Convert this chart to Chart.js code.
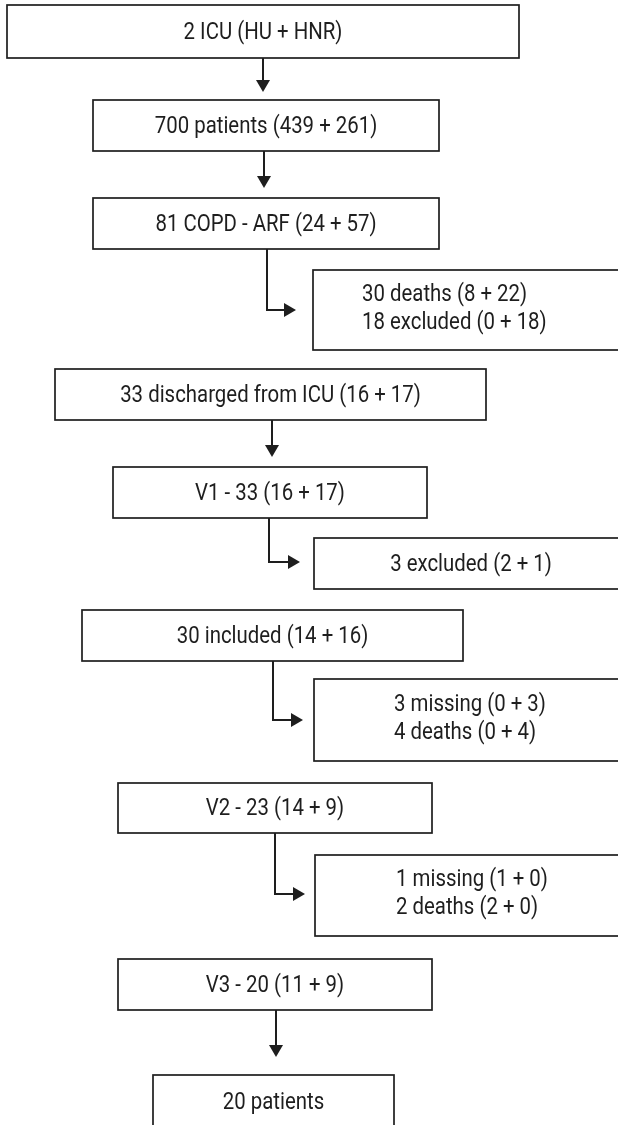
<!DOCTYPE html>
<html>
<head>
<meta charset="utf-8">
<script src="https://cdn.jsdelivr.net/npm/chart.js@4/dist/chart.umd.min.js"></script>
<style>
  html, body { margin: 0; padding: 0; background: #fff; }
  #wrap { width: 618px; height: 1125px; position: relative; }
</style>
</head>
<body>
<div id="wrap"><canvas id="flujo"></canvas></div>
<script>
// Textos de cada caja (datos del diagrama)
const boxLabels = [
    ['2 ICU (HU + HNR)'],
    ['700 patients (439 + 261)'],
    ['81 COPD - ARF (24 + 57)'],
    ['30 deaths (8 + 22)', '18 excluded (0 + 18)'],
    ['33 discharged from ICU (16 + 17)'],
    ['V1 - 33 (16 + 17)'],
    ['3 excluded (2 + 1)'],
    ['30 included (14 + 16)'],
    ['3 missing (0 + 3)', '4 deaths (0 + 4)'],
    ['V2 - 23 (14 + 9)'],
    ['1 missing (1 + 0)', '2 deaths (2 + 0)'],
    ['V3 - 20 (11 + 9)'],
    ['20 patients']
];

// Conexiones: [desde, hasta, tipo]
const links = [
    [0, 1, 'down'],
    [1, 2, 'down'],
    [2, 3, 'elbow'],
    [4, 5, 'down'],
    [5, 6, 'elbow'],
    [7, 8, 'elbow'],
    [9, 10, 'elbow'],
    [11, 12, 'down']
];

// Geometría de las cajas en unidades de la escala: [izq, der, arriba, abajo]
const boxGeom = [
    [7, 519, 5, 58],
    [93, 439, 100, 151],
    [93, 439, 198, 249],
    [313, 628, 270, 350],
    [55, 486, 369, 420],
    [113, 427, 467, 518],
    [314, 628, 538, 589],
    [82, 463, 610, 661],
    [314, 628, 679, 761],
    [118, 432, 783, 833],
    [315, 628, 855, 936],
    [118, 432, 959, 1010],
    [153, 394, 1075, 1140]
];
// Texto alineado a la izquierda en las cajas de dos líneas: [x, y1, y2]
const multiText = { 3: [362, 295, 323], 8: [394, 705, 733], 10: [396, 880, 908] };
// Recorrido de las flechas: [x, yFin] para 'down', [x, yCodo, xPunta] para 'elbow'
const linkPath = [
    [263, 92], [264, 188], [267, 310, 296], [272, 457],
    [269, 562, 300], [273, 720, 303], [275, 894, 305], [276, 1057]
];

const FONT = '24px Roboto, "Liberation Sans Narrow", sans-serif';
const COMPRESION = 0.85;   // la fuente original es condensada
const INK = '#1e1e1e';

function texto(ctx, txt, x, y, align) {
    ctx.save();
    ctx.translate(x, y);
    ctx.scale(COMPRESION, 1);
    ctx.textAlign = align;
    ctx.fillText(txt, 0, 0);
    ctx.restore();
}

function punta(ctx, x, y, dir) {
    ctx.beginPath();
    if (dir === 'down') {
        ctx.moveTo(x - 7, y - 12);
        ctx.lineTo(x + 7, y - 12);
        ctx.lineTo(x, y);
    } else {
        ctx.moveTo(x - 12, y - 7);
        ctx.lineTo(x - 12, y + 7);
        ctx.lineTo(x, y);
    }
    ctx.closePath();
    ctx.fill();
}

const diagramaPlugin = {
    id: 'diagrama',
    afterDraw(chart) {
        const ctx = chart.ctx;
        const sx = chart.scales.x, sy = chart.scales.y;
        const px = v => sx.getPixelForValue(v);
        const py = v => sy.getPixelForValue(v);
        ctx.save();
        ctx.strokeStyle = INK;
        ctx.fillStyle = INK;
        ctx.lineWidth = 1.7;
        ctx.font = FONT;
        ctx.textBaseline = 'middle';

        // Cajas y textos
        boxLabels.forEach((lineas, i) => {
            const [l, r, t, b] = boxGeom[i];
            ctx.strokeRect(px(l), py(t), px(r) - px(l), py(b) - py(t));
            if (multiText[i]) {
                const [tx, y1, y2] = multiText[i];
                texto(ctx, lineas[0], px(tx), py(y1), 'left');
                texto(ctx, lineas[1], px(tx), py(y2), 'left');
            } else {
                const cy = b > 1125 ? t + 27 : (t + b) / 2;
                texto(ctx, lineas[0], px((l + r) / 2), py(cy) + 1, 'center');
            }
        });

        // Flechas
        ctx.lineWidth = 2;
        links.forEach(([desde, hasta, tipo], k) => {
            const yIni = boxGeom[desde][3];
            const p = linkPath[k];
            ctx.beginPath();
            if (tipo === 'down') {
                ctx.moveTo(px(p[0]), py(yIni));
                ctx.lineTo(px(p[0]), py(p[1]) - 10);
                ctx.stroke();
                punta(ctx, px(p[0]), py(p[1]), 'down');
            } else {
                ctx.moveTo(px(p[0]), py(yIni));
                ctx.lineTo(px(p[0]), py(p[1]));
                ctx.lineTo(px(p[2]) - 10, py(p[1]));
                ctx.stroke();
                punta(ctx, px(p[2]), py(p[1]), 'right');
            }
        });
        ctx.restore();
    }
};

document.addEventListener('DOMContentLoaded', () => {
    try {
        const ctx = document.getElementById('flujo').getContext('2d');
        new Chart(ctx, {
            type: 'scatter',
            data: {
                datasets: [{
                    label: 'Cajas',
                    data: boxGeom.map(g => ({ x: (g[0] + g[1]) / 2, y: (g[2] + g[3]) / 2 })),
                    pointRadius: 0
                }]
            },
            options: {
                responsive: true,
                maintainAspectRatio: false,
                animation: false,
                layout: { padding: 0 },
                plugins: { legend: { display: false }, tooltip: { enabled: false } },
                scales: {
                    x: { type: 'linear', min: 0, max: 618, display: false },
                    y: { type: 'linear', min: 0, max: 1125, reverse: true, display: false }
                }
            },
            plugins: [diagramaPlugin]
        });
    } catch (error) {
        console.error('Error al dibujar el diagrama:', error);
    }
});
</script>
</body>
</html>
